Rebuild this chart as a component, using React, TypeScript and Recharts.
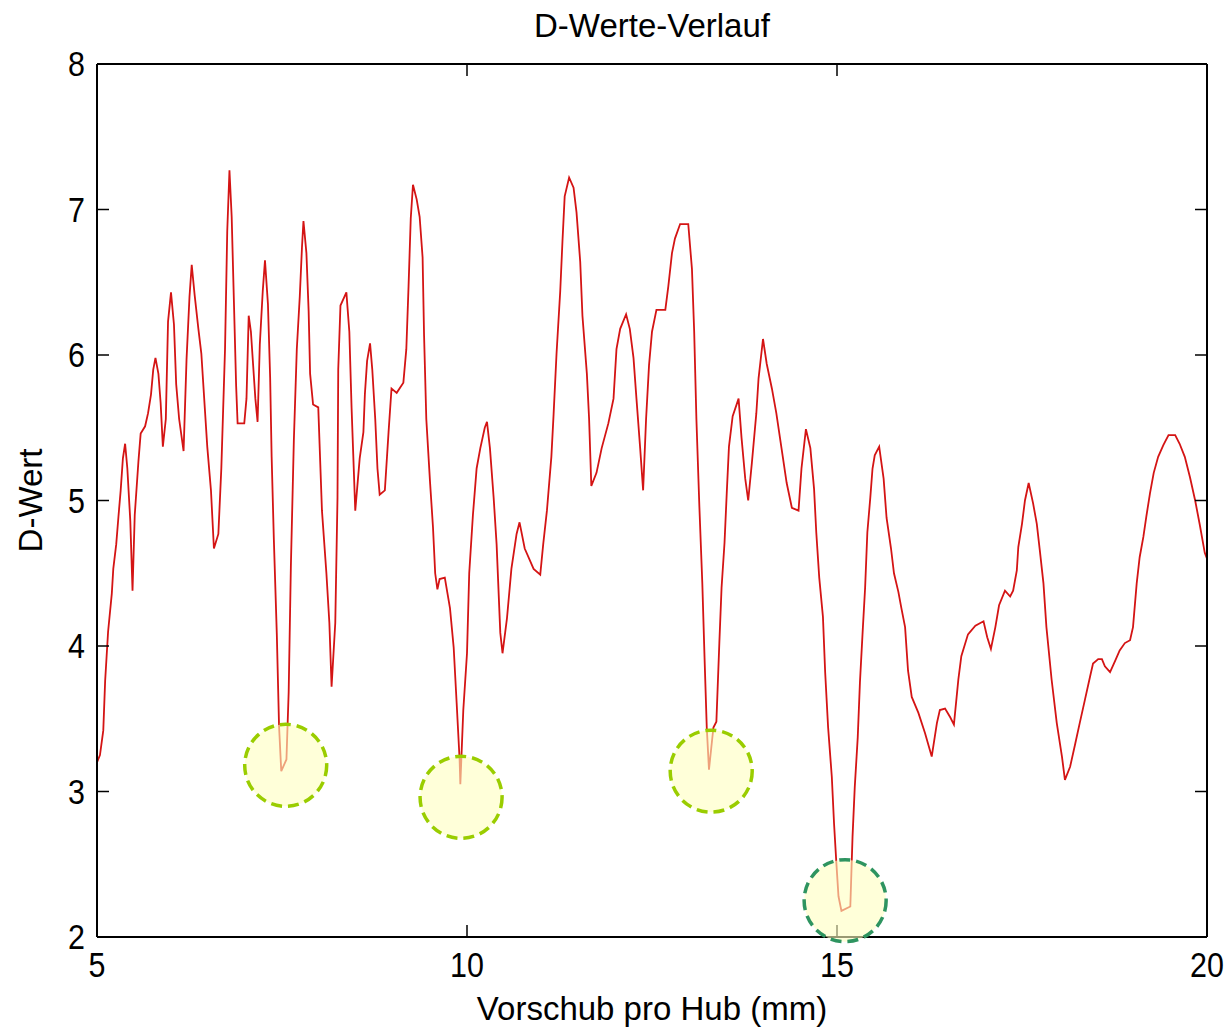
import React from "react";
import { LineChart, Line, XAxis, YAxis, ReferenceDot } from "recharts";

// Vorschub pro Hub (mm)
const feed = [
  5.0, 5.04, 5.085, 5.11, 5.15, 5.2, 5.22, 5.26, 5.29, 5.32, 5.35, 5.38, 5.41, 5.45, 5.48, 5.51,
  5.56, 5.59, 5.65, 5.69, 5.73, 5.76, 5.79, 5.83, 5.86, 5.89, 5.93, 5.96, 6.0, 6.04, 6.07, 6.11,
  6.17, 6.21, 6.25, 6.28, 6.32, 6.37, 6.41, 6.46, 6.49, 6.54, 6.58, 6.64, 6.68, 6.73, 6.76, 6.79,
  6.82, 6.85, 6.88, 6.9, 6.99, 7.02, 7.05, 7.08, 7.11, 7.14, 7.17, 7.2, 7.24, 7.27, 7.31, 7.34,
  7.36, 7.39, 7.43, 7.46, 7.49, 7.56, 7.59, 7.62, 7.66, 7.7, 7.74, 7.77, 7.79, 7.83, 7.86, 7.88,
  7.92, 7.99, 8.04, 8.1, 8.14, 8.17, 8.22, 8.25, 8.26, 8.29, 8.37, 8.41, 8.44, 8.49, 8.55, 8.6,
  8.62, 8.65, 8.69, 8.72, 8.76, 8.79, 8.82, 8.89, 8.94, 8.98, 9.05, 9.14, 9.18, 9.21, 9.24, 9.27,
  9.32, 9.36, 9.4, 9.42, 9.45, 9.5, 9.54, 9.57, 9.6, 9.63, 9.7, 9.77, 9.82, 9.86, 9.9, 9.91,
  9.95, 10.0, 10.03, 10.08, 10.13, 10.18, 10.24, 10.27, 10.31, 10.36, 10.4, 10.45, 10.48, 10.54, 10.6, 10.67,
  10.71, 10.78, 10.9, 10.99, 11.03, 11.08, 11.14, 11.17, 11.21, 11.26, 11.29, 11.32, 11.38, 11.44, 11.48, 11.53,
  11.56, 11.62, 11.65, 11.68, 11.75, 11.82, 11.91, 11.98, 12.02, 12.07, 12.15, 12.2, 12.25, 12.29, 12.34, 12.38,
  12.42, 12.46, 12.5, 12.56, 12.68, 12.72, 12.77, 12.81, 12.88, 12.99, 13.04, 13.07, 13.1, 13.14, 13.18, 13.21,
  13.24, 13.27, 13.33, 13.37, 13.41, 13.44, 13.48, 13.51, 13.54, 13.59, 13.67, 13.71, 13.76, 13.8, 13.85, 13.91,
  13.94, 14.0, 14.05, 14.12, 14.18, 14.25, 14.32, 14.39, 14.48, 14.52, 14.58, 14.64, 14.69, 14.72, 14.76, 14.81,
  14.84, 14.88, 14.93, 14.96, 14.99, 15.02, 15.06, 15.18, 15.21, 15.24, 15.28, 15.31, 15.35, 15.38, 15.41, 15.45,
  15.48, 15.51, 15.57, 15.63, 15.67, 15.73, 15.77, 15.83, 15.87, 15.92, 15.96, 16.01, 16.1, 16.19, 16.28, 16.35,
  16.39, 16.46, 16.53, 16.58, 16.64, 16.68, 16.77, 16.87, 16.98, 17.03, 17.08, 17.14, 17.19, 17.27, 17.34, 17.38,
  17.43, 17.45, 17.5, 17.54, 17.59, 17.65, 17.7, 17.74, 17.79, 17.83, 17.9, 17.97, 18.04, 18.08, 18.15, 18.22,
  18.28, 18.35, 18.42, 18.46, 18.53, 18.58, 18.62, 18.69, 18.76, 18.82, 18.89, 18.96, 19.0, 19.05, 19.09, 19.14,
  19.18, 19.23, 19.28, 19.34, 19.41, 19.48, 19.57, 19.63, 19.7, 19.77, 19.84, 19.9, 19.97, 20.0,
];

// D-Wert
const dValue = [
  3.2, 3.25, 3.42, 3.76, 4.1, 4.36, 4.53, 4.7, 4.89, 5.07, 5.29, 5.39, 5.22, 4.86, 4.38, 4.9,
  5.27, 5.46, 5.51, 5.6, 5.73, 5.9, 5.98, 5.87, 5.67, 5.37, 5.56, 6.23, 6.43, 6.21, 5.8, 5.56,
  5.34, 5.97, 6.4, 6.62, 6.41, 6.18, 6.01, 5.61, 5.37, 5.07, 4.67, 4.77, 5.22, 6.04, 6.85, 7.27,
  6.95, 6.37, 5.79, 5.53, 5.53, 5.7, 6.27, 6.16, 5.93, 5.7, 5.54, 6.07, 6.44, 6.65, 6.35, 5.84,
  5.3, 4.73, 4.08, 3.45, 3.14, 3.22, 3.68, 4.55, 5.41, 6.04, 6.4, 6.74, 6.92, 6.7, 6.3, 5.87,
  5.66, 5.64, 4.93, 4.5, 4.16, 3.72, 4.16, 5.02, 5.9, 6.34, 6.43, 6.16, 5.64, 4.93, 5.29, 5.47,
  5.73, 5.96, 6.08, 5.9, 5.56, 5.22, 5.04, 5.07, 5.47, 5.77, 5.74, 5.81, 6.04, 6.47, 6.94, 7.17,
  7.07, 6.95, 6.67, 6.13, 5.56, 5.13, 4.82, 4.5, 4.39, 4.46, 4.47, 4.26, 3.99, 3.61, 3.22, 3.05,
  3.56, 3.95, 4.5, 4.9, 5.22, 5.36, 5.5, 5.54, 5.36, 5.02, 4.7, 4.09, 3.95, 4.19, 4.53, 4.77,
  4.85, 4.67, 4.53, 4.49, 4.7, 4.93, 5.3, 5.59, 6.01, 6.44, 6.78, 7.09, 7.22, 7.15, 6.98, 6.64,
  6.27, 5.87, 5.56, 5.1, 5.19, 5.36, 5.53, 5.7, 6.04, 6.18, 6.28, 6.18, 5.98, 5.7, 5.36, 5.07,
  5.56, 5.93, 6.16, 6.31, 6.31, 6.47, 6.7, 6.8, 6.9, 6.9, 6.59, 6.16, 5.56, 4.96, 4.43, 3.92,
  3.44, 3.15, 3.44, 3.48, 4.02, 4.4, 4.71, 5.05, 5.37, 5.58, 5.7, 5.43, 5.15, 5.0, 5.26, 5.6,
  5.84, 6.11, 5.94, 5.77, 5.6, 5.36, 5.12, 4.95, 4.93, 5.22, 5.49, 5.36, 5.08, 4.78, 4.47, 4.2,
  3.82, 3.44, 3.1, 2.78, 2.52, 2.28, 2.18, 2.21, 2.69, 3.03, 3.37, 3.75, 4.13, 4.4, 4.78, 5.02,
  5.22, 5.31, 5.37, 5.15, 4.88, 4.67, 4.5, 4.37, 4.26, 4.13, 3.83, 3.65, 3.54, 3.4, 3.24, 3.47,
  3.56, 3.57, 3.51, 3.46, 3.77, 3.93, 4.08, 4.14, 4.17, 4.06, 3.98, 4.13, 4.28, 4.38, 4.34, 4.38,
  4.52, 4.68, 4.84, 5.0, 5.12, 4.98, 4.84, 4.66, 4.43, 4.13, 3.77, 3.47, 3.24, 3.08, 3.17, 3.33,
  3.47, 3.63, 3.79, 3.88, 3.91, 3.91, 3.86, 3.82, 3.9, 3.97, 4.02, 4.04, 4.13, 4.43, 4.61, 4.75,
  4.89, 5.05, 5.19, 5.3, 5.38, 5.45, 5.45, 5.39, 5.3, 5.16, 5.0, 4.84, 4.64, 4.6,
];

const xTicks = [5, 10, 15, 20];
const yTicks = [2, 3, 4, 5, 6, 7, 8];

// marked minima (dashed circles)
const markX = [7.55, 9.92, 13.3, 15.11];
const markY = [3.18, 2.96, 3.14, 2.25];
const markStroke = ["#9acd00", "#9acd00", "#9acd00", "#2e9460"];

const data = feed.map((x, i) => ({ x, d: dValue[i] }));

const font = "'Liberation Sans', Arial, sans-serif";

const XTick = ({ x, y, payload }: any) => (
  <text
    x={x}
    y={y}
    dy="0.71em"
    textAnchor="middle"
    fontSize={35}
    fontFamily={font}
    fill="#000"
    transform={`translate(${x} ${y}) scale(0.87 1) translate(${-x} ${-y})`}
  >
    {payload.value}
  </text>
);

const YTick = ({ x, y, payload }: any) => (
  <text
    x={x}
    y={y}
    dy="0.355em"
    textAnchor="end"
    fontSize={35}
    fontFamily={font}
    fill="#000"
    transform={`translate(${x} ${y}) scale(0.87 1) translate(${-x} ${-y})`}
  >
    {payload.value}
  </text>
);

// top / right box axes: tick marks only
const NoLabel = () => <g />;

const axisLine = { stroke: "#000", strokeWidth: 2 };
const tickLine = { stroke: "#000", strokeWidth: 1.5 };

export default function App() {
  return (
    <div style={{ position: "absolute", left: 0, top: 0, background: "#fff" }}>
      <LineChart
        width={1229}
        height={1030}
        data={data}
        margin={{ top: 63, right: 21, bottom: 0, left: 0 }}
      >
        <XAxis
          xAxisId="b"
          dataKey="x"
          type="number"
          domain={[5, 20]}
          ticks={xTicks}
          interval={0}
          allowDataOverflow
          height={93}
          tickSize={-12}
          tickMargin={27}
          tick={<XTick />}
          axisLine={axisLine}
          tickLine={tickLine}
          label={{
            value: "Vorschub pro Hub (mm)",
            position: "insideBottom",
            offset: 10,
            fontSize: 33,
            fontFamily: font,
            fill: "#000",
          }}
        />
        <XAxis
          xAxisId="t"
          orientation="top"
          dataKey="x"
          type="number"
          domain={[5, 20]}
          ticks={xTicks}
          interval={0}
          allowDataOverflow
          height={1}
          tickSize={-12}
          tick={<NoLabel />}
          axisLine={axisLine}
          tickLine={tickLine}
          label={{
            value: "D-Werte-Verlauf",
            position: "top",
            offset: 26,
            fontSize: 33,
            fontFamily: font,
            fill: "#000",
          }}
        />
        <YAxis
          yAxisId="l"
          type="number"
          domain={[2, 8]}
          ticks={yTicks}
          interval={0}
          allowDataOverflow
          width={97}
          tickSize={-12}
          tickMargin={24}
          tick={<YTick />}
          axisLine={axisLine}
          tickLine={tickLine}
          label={{
            value: "D-Wert",
            angle: -90,
            position: "insideLeft",
            offset: 30,
            fontSize: 33,
            fontFamily: font,
            fill: "#000",
            style: { textAnchor: "middle" },
          }}
        />
        <YAxis
          yAxisId="r"
          orientation="right"
          type="number"
          domain={[2, 8]}
          ticks={yTicks}
          interval={0}
          allowDataOverflow
          width={1}
          tickSize={-12}
          tick={<NoLabel />}
          axisLine={axisLine}
          tickLine={tickLine}
        />
        <Line
          xAxisId="b"
          yAxisId="l"
          type="linear"
          dataKey="d"
          stroke="#d41414"
          strokeWidth={1.8}
          dot={false}
          activeDot={false}
          isAnimationActive={false}
        />
        {markX.map((mx, i) => (
          <ReferenceDot
            key={i}
            xAxisId="b"
            yAxisId="l"
            x={mx}
            y={markY[i]}
            r={41}
            fill="#ffffc0"
            fillOpacity={0.6}
            stroke={markStroke[i]}
            strokeWidth={3.5}
            strokeDasharray="11 6"
            ifOverflow="visible"
          />
        ))}
      </LineChart>
    </div>
  );
}
